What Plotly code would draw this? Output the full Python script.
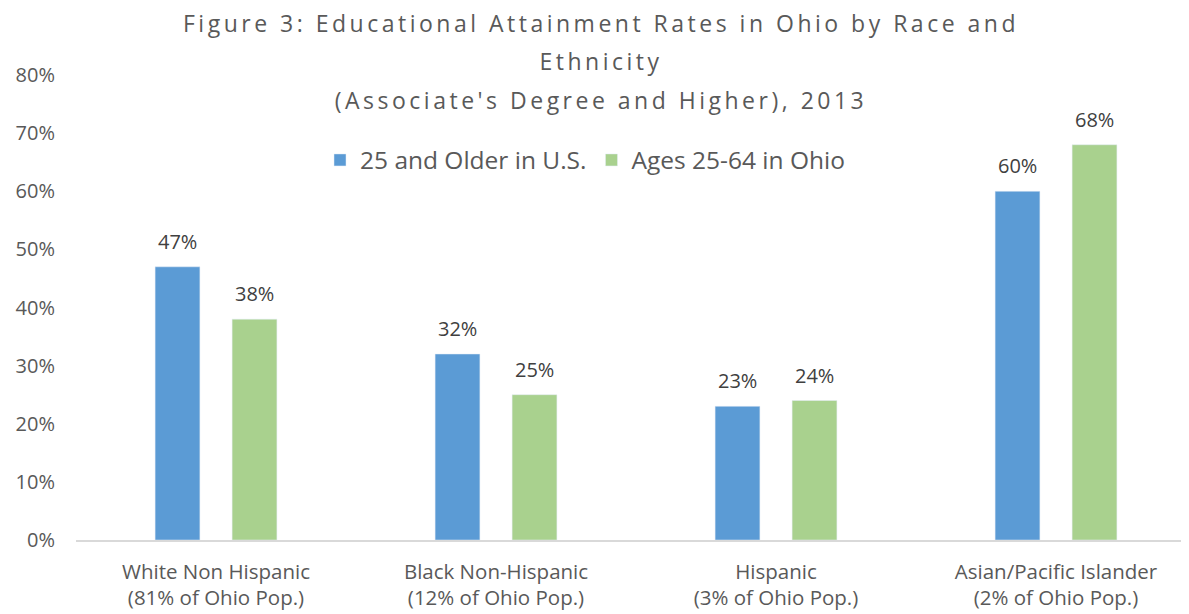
import plotly.graph_objects as go

categories = [
    "White Non Hispanic<br>(81% of Ohio Pop.)",
    "Black Non-Hispanic<br>(12% of Ohio Pop.)",
    "Hispanic<br>(3% of Ohio Pop.)",
    "Asian/Pacific Islander<br>(2% of Ohio Pop.)",
]
series_names = ["25 and Older in U.S.", "Ages 25-64 in Ohio"]
us_values = [0.47, 0.32, 0.23, 0.60]
ohio_values = [0.38, 0.25, 0.24, 0.68]
title_lines = [
    "Figure 3: Educational Attainment Rates in Ohio by Race and",
    "Ethnicity",
    "(Associate's Degree and Higher), 2013",
]
y_ticks = [0, 0.1, 0.2, 0.3, 0.4, 0.5, 0.6, 0.7, 0.8]

BLUE = "#5b9bd5"
GREEN = "#a9d18e"
TXT = "#595959"
FONT = "Open Sans"

fig = go.Figure()
fig.add_trace(go.Bar(x=categories, y=us_values, name=series_names[0],
                     marker=dict(color=BLUE), width=0.16, offset=-0.2175))
fig.add_trace(go.Bar(x=categories, y=ohio_values, name=series_names[1],
                     marker=dict(color=GREEN), width=0.16, offset=0.0575))

annotations = []
for i, cat in enumerate(categories):
    for vals, shift in ((us_values, -38.5), (ohio_values, 38.5)):
        annotations.append(dict(
            x=cat, y=vals[i], xref="x", yref="y", text=f"{round(vals[i]*100)}%",
            showarrow=False, xshift=shift, yanchor="bottom", yshift=10,
            font=dict(family=FONT, size=20, color="#404040")))

title_y_px = [23, 61, 100]
for line, ypx in zip(title_lines, title_y_px):
    annotations.append(dict(
        x=(601 - 76) / 1113, y=(540 - ypx) / 465, xref="paper", yref="paper",
        text=f'<span style="letter-spacing:3.5px">{line}</span>',
        showarrow=False, xanchor="center", yanchor="middle",
        width=1000, height=34, align="center", valign="middle",
        font=dict(family=FONT, size=23, color=TXT)))

fig.update_layout(
    width=1189, height=614,
    margin=dict(l=68, r=8, t=67, b=82),
    paper_bgcolor="white", plot_bgcolor="white",
    font=dict(family=FONT, color=TXT, size=20),
    barmode="group",
    showlegend=True,
    legend=dict(orientation="h", x=(585 - 76) / 1113, xanchor="center",
                y=(540 - 160) / 465, yanchor="middle",
                font=dict(family=FONT, size=24.5, color=TXT),
                bgcolor="rgba(0,0,0,0)"),
    annotations=annotations,
)
fig.update_xaxes(range=[-0.5, 3.475], showline=True, linecolor="#d9d9d9",
                 linewidth=2, showgrid=False, ticks="", ticklabelstandoff=12,
                 tickfont=dict(family=FONT, size=20.5, color=TXT))
fig.update_yaxes(range=[0, 0.8], tickvals=y_ticks, tickformat=".0%",
                 showgrid=False, zeroline=False, showline=False,
                 ticklabelstandoff=20,
                 tickfont=dict(family=FONT, size=20, color=TXT))

fig.write_html("out.html")
